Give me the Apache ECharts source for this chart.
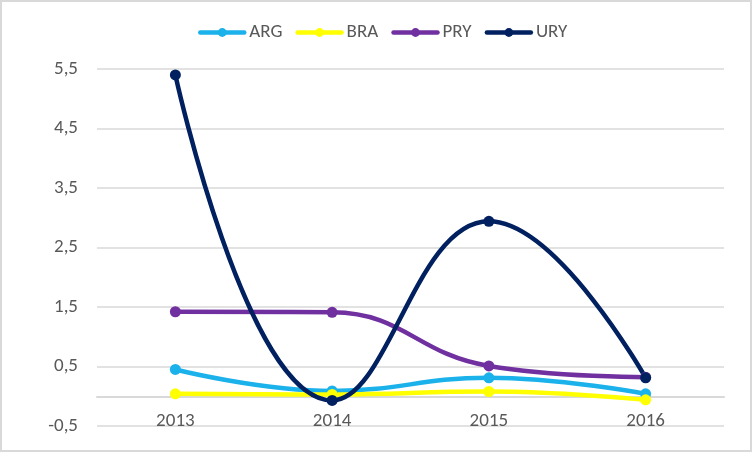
<!DOCTYPE html>
<html>
<head>
<meta charset="utf-8">
<script src="https://cdn.jsdelivr.net/npm/echarts@6/dist/echarts.min.js"></script>
<style>
html,body{margin:0;padding:0;background:#fff;}
#main{width:752px;height:452px;box-sizing:border-box;border:2px solid #d9d9d9;}
</style>
</head>
<body>
<div id="main"></div>
<script>
//years on the x axis
var years = ['2013', '2014', '2015', '2016'];
//values per country
var arg = [0.45, 0.09, 0.31, 0.04];
var bra = [0.04, 0.03, 0.08, -0.06];
var pry = [1.42, 1.41, 0.51, 0.32];
var ury = [5.40, -0.07, 2.94, 0.31];
var yTicks = [-0.5, 0.5, 1.5, 2.5, 3.5, 4.5, 5.5];

var font = 'Carlito, "Liberation Sans Narrow", "Open Sans", sans-serif';
var chart = echarts.init(document.getElementById('main'));

function line(name, data, color) {
    return {
        name: name,
        type: 'line',
        smooth: 0.45,
        data: data,
        symbol: 'circle',
        symbolSize: 11,
        lineStyle: {width: 4.5, color: color, cap: 'round', join: 'round'},
        itemStyle: {color: color}
    };
}

var option = {
    backgroundColor: '#fff',
    animation: false,
    textStyle: {fontFamily: font},
    legend: {
        top: 16,
        left: 191,
        itemWidth: 44,
        itemHeight: 11,
        itemGap: 13,
        lineStyle: {width: 4.5},
        textStyle: {color: '#595959', fontSize: 19, fontFamily: font}
    },
    grid: {left: 95, right: 26, top: 67, bottom: 24, outerBoundsMode: 'none', containLabel: false},
    xAxis: {
        type: 'category',
        data: years,
        axisLine: {onZero: true, lineStyle: {color: '#d9d9d9', width: 2}},
        axisTick: {show: false},
        axisLabel: {color: '#595959', fontSize: 19, margin: -14, fontFamily: font}
    },
    yAxis: {
        type: 'value',
        min: yTicks[0],
        max: yTicks[yTicks.length - 1],
        interval: 1,
        axisLine: {show: false},
        axisTick: {show: false},
        splitLine: {lineStyle: {color: '#d9d9d9', width: 1.5}},
        axisLabel: {
            color: '#595959', fontSize: 19, margin: 19, fontFamily: font,
            formatter: function (v) { return String(Math.round(v * 10) / 10).replace('.', ','); }
        }
    },
    series: [
        line('ARG', arg, '#1bb1ea'),
        line('BRA', bra, '#ffff00'),
        line('PRY', pry, '#7030a0'),
        line('URY', ury, '#002060')
    ]
};
chart.setOption(option);
</script>
</body>
</html>
